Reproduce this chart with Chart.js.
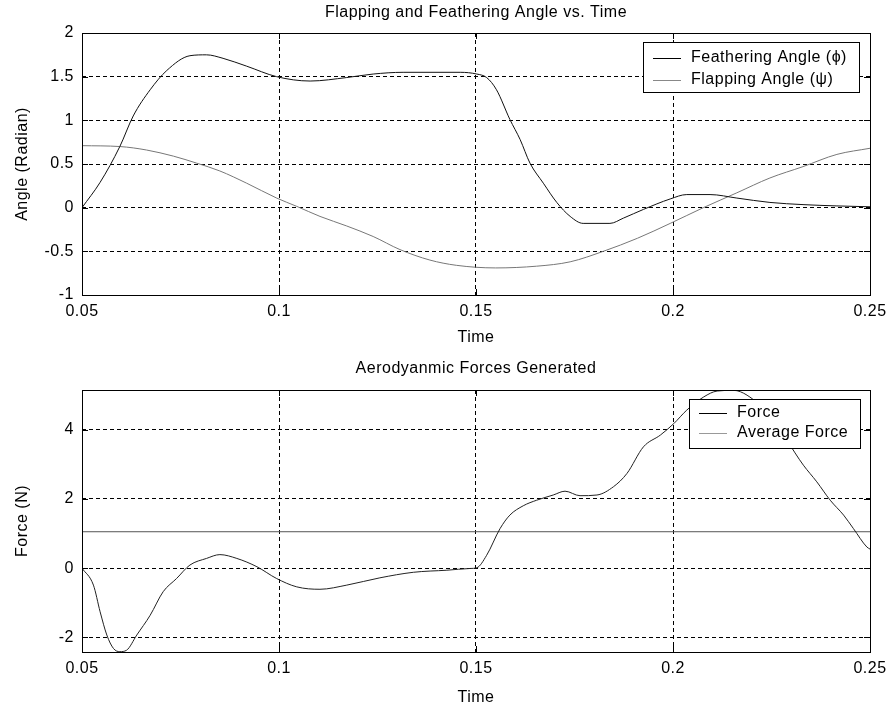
<!DOCTYPE html>
<html>
<head>
<meta charset="utf-8">
<script src="https://cdn.jsdelivr.net/npm/chart.js@4.4.1/dist/chart.umd.min.js"></script>
<style>
  body { margin: 0; background: #fff; }
  canvas { display: block; }
</style>
</head>
<body>
<canvas id="angleChart" width="889" height="355"></canvas>
<canvas id="forceChart" width="889" height="356"></canvas>
<script>
// values
var timeTicks = [0.05, 0.1, 0.15, 0.2, 0.25];
var angleTicks = [-1, -0.5, 0, 0.5, 1, 1.5, 2];
var forceTicks = [-2, 0, 2, 4];

var featherT = [0.05, 0.0546, 0.0596, 0.063, 0.0673, 0.0715, 0.0774, 0.0816, 0.0858, 0.0918, 0.0994, 0.1079, 0.1172, 0.1239, 0.1315, 0.146, 0.1502, 0.1527, 0.1552, 0.1586, 0.1612, 0.1637, 0.1671, 0.1705, 0.1739, 0.1772, 0.184, 0.1874, 0.1925, 0.1993, 0.2035, 0.2094, 0.2162, 0.2246, 0.233, 0.2416, 0.25];
var featherAngle = [0.0, 0.29, 0.70, 1.05, 1.35, 1.57, 1.74, 1.75, 1.71, 1.62, 1.50, 1.45, 1.49, 1.53, 1.55, 1.55, 1.53, 1.49, 1.35, 1.01, 0.78, 0.51, 0.28, 0.06, -0.10, -0.18, -0.18, -0.12, -0.02, 0.10, 0.15, 0.15, 0.11, 0.06, 0.035, 0.02, 0.01];

var flapT = [0.05, 0.0596, 0.0664, 0.0732, 0.0791, 0.085, 0.0918, 0.0994, 0.1045, 0.1104, 0.1172, 0.1239, 0.1307, 0.1383, 0.145, 0.155, 0.1654, 0.1739, 0.1823, 0.191, 0.1993, 0.2077, 0.2162, 0.2246, 0.233, 0.2416, 0.25];
var flapAngle = [0.71, 0.70, 0.66, 0.59, 0.51, 0.42, 0.28, 0.11, 0.015, -0.10, -0.21, -0.33, -0.48, -0.60, -0.66, -0.69, -0.67, -0.62, -0.50, -0.35, -0.18, 0.00, 0.17, 0.34, 0.47, 0.61, 0.68];

var forceT = [0.05, 0.0529, 0.0546, 0.0563, 0.058, 0.0596, 0.0613, 0.0639, 0.0673, 0.0706, 0.074, 0.0774, 0.0816, 0.085, 0.0893, 0.0944, 0.0994, 0.1045, 0.1104, 0.1172, 0.1256, 0.1341, 0.1426, 0.1485, 0.1502, 0.1527, 0.1561, 0.1586, 0.162, 0.1654, 0.1696, 0.1726, 0.1764, 0.1807, 0.1849, 0.1883, 0.1925, 0.1968, 0.2002, 0.2035, 0.2078, 0.2112, 0.2154, 0.2188, 0.2246, 0.2331, 0.2365, 0.2399, 0.2433, 0.2458, 0.2492, 0.25];
var forceVal = [0.0, -0.49, -1.26, -1.93, -2.32, -2.41, -2.37, -1.93, -1.36, -0.68, -0.30, 0.09, 0.28, 0.39, 0.28, 0.04, -0.30, -0.54, -0.61, -0.49, -0.28, -0.12, -0.06, -0.01, 0.01, 0.37, 1.14, 1.53, 1.80, 1.96, 2.11, 2.22, 2.09, 2.11, 2.35, 2.73, 3.50, 3.84, 4.17, 4.56, 4.94, 5.11, 5.13, 4.99, 4.40, 2.97, 2.49, 1.96, 1.53, 1.14, 0.61, 0.55];

var avgT = [0.05, 0.25];
var avgForce = [1.05, 1.05];

var FONT = "'Liberation Sans', Arial, sans-serif";
Chart.defaults.font.family = FONT;
Chart.defaults.font.size = 16;
Chart.defaults.color = '#000';

function pts(xs, ys) {
    return xs.map(function(x, i) { return { x: x, y: ys[i] }; });
}

function line(label, xs, ys, color) {
    return {
        label: label,
        data: pts(xs, ys),
        borderColor: color,
        borderWidth: 1,
        pointRadius: 0,
        fill: false,
        cubicInterpolationMode: 'monotone'
    };
}

// axes frame, inside tick marks, title over the axes and the boxed legend
var matlabLook = {
    id: 'matlabLook',
    beforeDraw: function(chart) {
        chart.ctx.letterSpacing = '0.5px';
    },
    afterDatasetsDraw: function(chart, args, opts) {
        var ctx = chart.ctx, a = chart.chartArea;
        var xs = chart.scales.x, ys = chart.scales.y;
        ctx.save();
        ctx.strokeStyle = '#000';
        ctx.lineWidth = 1;
        ctx.strokeRect(Math.round(a.left) + 0.5, Math.round(a.top) + 0.5,
            Math.round(a.right - a.left), Math.round(a.bottom - a.top));
        ctx.beginPath();
        xs.ticks.forEach(function(t) {
            var px = Math.round(xs.getPixelForValue(t.value)) + 0.5;
            ctx.moveTo(px, a.top); ctx.lineTo(px, a.top + 6);
            ctx.moveTo(px, a.bottom); ctx.lineTo(px, a.bottom - 6);
        });
        ys.ticks.forEach(function(t) {
            var py = Math.round(ys.getPixelForValue(t.value)) + 0.5;
            ctx.moveTo(a.left, py); ctx.lineTo(a.left + 6, py);
            ctx.moveTo(a.right, py); ctx.lineTo(a.right - 6, py);
        });
        ctx.stroke();

        ctx.font = '16px ' + FONT;
        ctx.letterSpacing = '0.5px';
        ctx.fillStyle = '#000';
        ctx.textBaseline = 'middle';
        ctx.textAlign = 'center';
        ctx.fillText(opts.title, (a.left + a.right) / 2, opts.titleY);

        // legend
        var tw = 0;
        opts.items.forEach(function(it) { tw = Math.max(tw, ctx.measureText(it.text).width); });
        var w = 10 + 28 + 10 + tw + 12;
        var right = Math.round(a.right - opts.right);
        var left = right - Math.round(w);
        var top = Math.round(a.top + opts.top);
        ctx.fillStyle = '#fff';
        ctx.fillRect(left, top, right - left, opts.height);
        ctx.strokeRect(left + 0.5, top + 0.5, right - left, opts.height);
        ctx.textAlign = 'left';
        opts.items.forEach(function(it, i) {
            var y = top + opts.first + i * opts.step;
            ctx.strokeStyle = it.color;
            ctx.beginPath();
            ctx.moveTo(left + 10, Math.round(y) + 0.5);
            ctx.lineTo(left + 38, Math.round(y) + 0.5);
            ctx.stroke();
            ctx.fillStyle = '#000';
            ctx.fillText(it.text, left + 48, y);
        });
        ctx.restore();
    }
};

function makeChart(id, cfg) {
    cfg.legend.title = cfg.title;
    cfg.legend.titleY = cfg.titleY;
    return new Chart(document.getElementById(id), {
        type: 'line',
        data: { datasets: cfg.datasets },
        plugins: [matlabLook],
        options: {
            responsive: false,
            animation: false,
            layout: { padding: { left: 0, right: 19, top: cfg.plotTop, bottom: 0 } },
            plugins: {
                legend: { display: false },
                tooltip: { enabled: false },
                title: { display: false },
                matlabLook: cfg.legend
            },
            scales: {
                x: {
                    type: 'linear',
                    min: 0.05,
                    max: 0.25,
                    afterBuildTicks: function(s) { s.ticks = timeTicks.map(function(v) { return { value: v }; }); },
                    afterFit: function(s) { s.height = cfg.xHeight; s.paddingRight = 0; s.paddingLeft = 0; },
                    ticks: { padding: 7, callback: function(v) { return String(v); } },
                    grid: { color: '#000', lineWidth: 1, drawTicks: false },
                    border: { display: false, dash: [4, 3] },
                    title: { display: true, text: 'Time', font: { size: 16 }, padding: { top: 0, bottom: cfg.timePad } }
                },
                y: {
                    min: cfg.ymin,
                    max: cfg.ymax,
                    afterBuildTicks: function(s) { s.ticks = cfg.yTicks.map(function(v) { return { value: v }; }); },
                    afterFit: function(s) { s.width = 82; s.paddingTop = 0; s.paddingBottom = 0; },
                    ticks: { padding: 8, callback: function(v) { return String(v); } },
                    grid: { color: '#000', lineWidth: 1, drawTicks: false },
                    border: { display: false, dash: [4, 3] },
                    title: { display: true, text: cfg.yTitle, font: { size: 16 }, padding: { top: 13, bottom: 0 } }
                }
            }
        }
    });
}

// dashed grid: Chart.js v4 takes the dash from border.dash
makeChart('angleChart', {
    title: 'Flapping and Feathering Angle vs. Time',
    titleY: 12.5, plotTop: 33, xHeight: 60, timePad: 8,
    ymin: -1, ymax: 2, yTicks: angleTicks, yTitle: 'Angle (Radian)',
    datasets: [
        line('Feathering Angle (ϕ)', featherT, featherAngle, '#111'),
        line('Flapping Angle (ψ)', flapT, flapAngle, '#777')
    ],
    legend: {
        right: 11, top: 9, height: 50, first: 16, step: 22,
        items: [
            { text: 'Feathering Angle (ϕ)', color: '#000' },
            { text: 'Flapping Angle (ψ)', color: '#888' }
        ]
    }
});

makeChart('forceChart', {
    title: 'Aerodyanmic Forces Generated',
    titleY: 13.5, plotTop: 35, xHeight: 59, timePad: 4,
    ymin: -2.42, ymax: 5.14, yTicks: forceTicks, yTitle: 'Force (N)',
    datasets: [
        line('Force', forceT, forceVal, '#222'),
        line('Average Force', avgT, avgForce, '#555')
    ],
    legend: {
        right: 10, top: 9, height: 49, first: 13.5, step: 20.5,
        items: [
            { text: 'Force', color: '#000' },
            { text: 'Average Force', color: '#999' }
        ]
    }
});
</script>
</body>
</html>
